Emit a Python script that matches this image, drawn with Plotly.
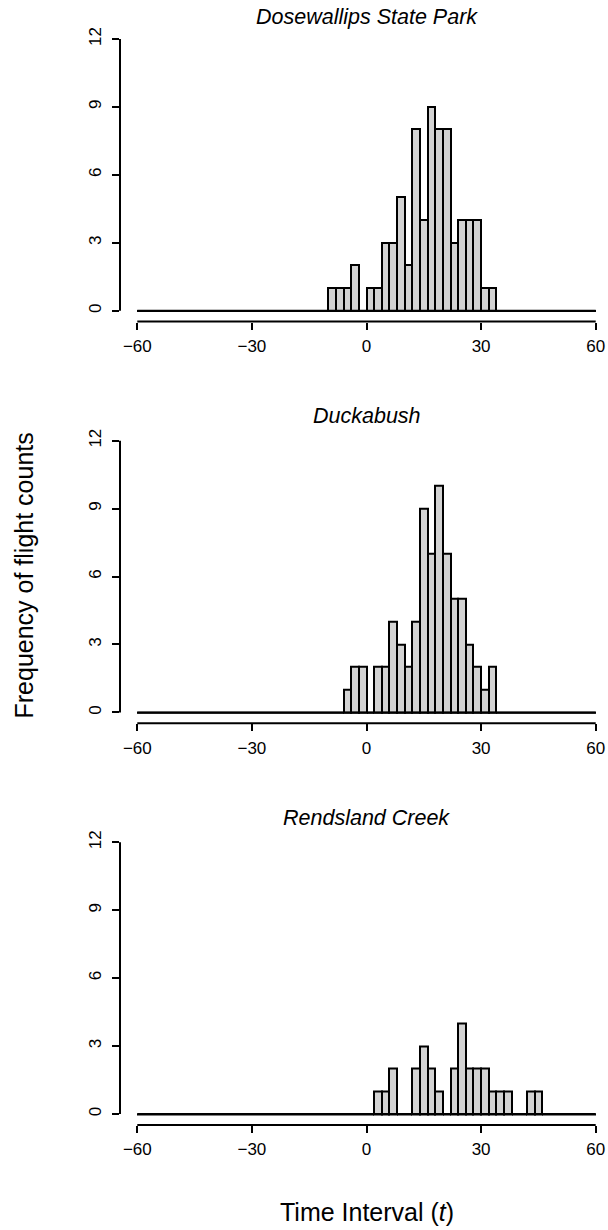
import plotly.graph_objects as go

# Histogram bins: width 2, from -60 to 60
bin_edges = list(range(-60, 62, 2))
bin_width = 2

sites = ["Dosewallips State Park", "Duckabush", "Rendsland Creek"]

# Frequency per bin (left edges -60, -58, ..., 58)
dosewallips_counts = [
    0, 0, 0, 0, 0, 0, 0, 0, 0, 0,   # -60 .. -42
    0, 0, 0, 0, 0, 0, 0, 0, 0, 0,   # -40 .. -22
    0, 0, 0, 0, 0, 1, 1, 1, 2, 0,   # -20 .. -2
    1, 1, 3, 3, 5, 2, 8, 4, 9, 8,   #   0 .. 18
    8, 3, 4, 4, 4, 1, 1, 0, 0, 0,   #  20 .. 38
    0, 0, 0, 0, 0, 0, 0, 0, 0, 0,   #  40 .. 58
]
duckabush_counts = [
    0, 0, 0, 0, 0, 0, 0, 0, 0, 0,
    0, 0, 0, 0, 0, 0, 0, 0, 0, 0,
    0, 0, 0, 0, 0, 0, 0, 1, 2, 2,
    0, 2, 2, 4, 3, 2, 4, 9, 7, 10,
    7, 5, 5, 3, 2, 1, 2, 0, 0, 0,
    0, 0, 0, 0, 0, 0, 0, 0, 0, 0,
]
rendsland_counts = [
    0, 0, 0, 0, 0, 0, 0, 0, 0, 0,
    0, 0, 0, 0, 0, 0, 0, 0, 0, 0,
    0, 0, 0, 0, 0, 0, 0, 0, 0, 0,
    0, 1, 1, 2, 0, 0, 2, 3, 2, 1,
    0, 2, 4, 2, 2, 2, 1, 1, 1, 0,
    0, 1, 1, 0, 0, 0, 0, 0, 0, 0,
]
site_counts = [dosewallips_counts, duckabush_counts, rendsland_counts]

x_tick_vals = [-60, -30, 0, 30, 60]
x_tick_text = ["\u221260", "\u221230", "0", "30", "60"]
y_tick_vals = [0, 3, 6, 9, 12]
y_tick_text = ["0", "3", "6", "9", "12"]

# ---- page geometry (pixels) ----
W, H = 608, 1230
FONT = "Liberation Sans, Arial, sans-serif"
plot_left = 120.0
plot_right = 608.0
x0_px, x60_px = 137.3, 595.7            # pixel of x=-60 and x=60
px_per_x = (x60_px - x0_px) / 120.0
x_range = [-60 - (x0_px - plot_left) / px_per_x,
           -60 + (plot_right - x0_px) / px_per_x]
y_range = [-0.48, 12.48]
panel_top = 28.1
panel_bottom = 321.6
panel_offsets = [0.0, 401.7, 803.3]
title_centers = [16.5, 416.0, 818.0]

centers = [e + bin_width / 2 for e in bin_edges[:-1]]

fig = go.Figure()
for i, (site, counts) in enumerate(zip(sites, site_counts)):
    n = "" if i == 0 else str(i + 1)
    xa, ya = "x" + n, "y" + n
    fig.add_trace(go.Bar(
        x=centers, y=counts, width=bin_width,
        marker=dict(color="#D3D3D3", line=dict(color="black", width=2)),
        xaxis=xa, yaxis=ya, showlegend=False, hoverinfo="x+y",
    ))
    # bottom edge of the histogram across every bin (empty bins included)
    fig.add_trace(go.Scatter(
        x=[bin_edges[0], bin_edges[-1]], y=[0, 0], mode="lines",
        line=dict(color="black", width=2),
        xaxis=xa, yaxis=ya, showlegend=False, hoverinfo="skip",
    ))

    top = panel_top + panel_offsets[i]
    bottom = panel_bottom + panel_offsets[i]
    axis_font = dict(family=FONT, size=17, color="black")
    fig.update_layout({
        "xaxis" + n: dict(
            domain=[plot_left / W, plot_right / W], range=x_range,
            anchor=ya, tickvals=x_tick_vals, ticktext=x_tick_text,
            ticks="outside", ticklen=7, tickwidth=2, tickcolor="black",
            showgrid=False, zeroline=False, showline=False,
            tickfont=axis_font, ticklabelstandoff=2, fixedrange=True,
        ),
        "yaxis" + n: dict(
            domain=[1 - bottom / H, 1 - top / H], range=y_range,
            anchor=xa, tickvals=y_tick_vals, ticktext=y_tick_text,
            ticks="outside", ticklen=7, tickwidth=2, tickcolor="black",
            tickangle=-90, showgrid=False, zeroline=False, showline=False,
            tickfont=axis_font, ticklabelstandoff=4, fixedrange=True,
        ),
    })
    # axis lines spanning only the labelled ranges
    fig.add_shape(type="line", xref=xa, yref=ya + " domain",
                  x0=x_tick_vals[0], x1=x_tick_vals[-1], y0=0, y1=0,
                  line=dict(color="black", width=2))
    fig.add_shape(type="line", xref=xa + " domain", yref=ya,
                  x0=0, x1=0, y0=y_tick_vals[0], y1=y_tick_vals[-1],
                  line=dict(color="black", width=2))
    # panel title
    fig.add_annotation(
        text="<i>" + site + "</i>", xref="paper", yref="paper",
        x=367 / W, y=1 - title_centers[i] / H, xanchor="center", yanchor="middle",
        showarrow=False, font=dict(family=FONT, size=21.5, color="black"),
    )

fig.add_annotation(
    text="Frequency of flight counts", xref="paper", yref="paper",
    x=23 / W, y=1 - 575.5 / H, xanchor="center", yanchor="middle",
    textangle=-90, showarrow=False, font=dict(family=FONT, size=25, color="black"),
)
fig.add_annotation(
    text="Time Interval (<i>t</i>)", xref="paper", yref="paper",
    x=366.5 / W, y=1 - 1212 / H, xanchor="center", yanchor="middle",
    showarrow=False, font=dict(family=FONT, size=25, color="black"),
)

fig.update_layout(
    width=W, height=H, margin=dict(l=0, r=0, t=0, b=0),
    paper_bgcolor="white", plot_bgcolor="white", bargap=0,
)

fig.write_html("out.html")
